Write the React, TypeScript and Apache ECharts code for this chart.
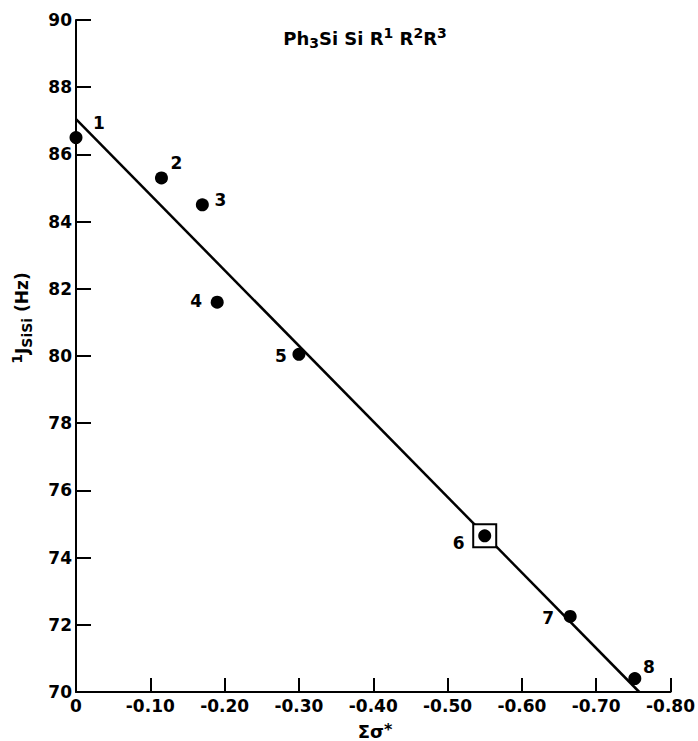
import React, { useEffect, useRef } from "react";
import * as echarts from "echarts";

// Data
const sigmaStar = [0, -0.115, -0.17, -0.19, -0.3, -0.55, -0.665, -0.752];
const couplingJ = [86.5, 85.3, 84.5, 81.6, 80.05, 74.65, 72.25, 70.4];
const compoundLabels = ["1", "2", "3", "4", "5", "6", "7", "8"];
const boxedCompound = "6";
const fitX = [0, -0.758];
const fitY = [87.05, 70];
const xTickValues = [0, -0.1, -0.2, -0.3, -0.4, -0.5, -0.6, -0.7, -0.8];
const yTickValues = [70, 72, 74, 76, 78, 80, 82, 84, 86, 88, 90];

// Layout: label offsets (px) relative to each point
const labelOffsets: [number, number][] = [
  [23, -15],
  [15, -15],
  [18, -5],
  [-21, -1],
  [-18, 2],
  [-26, 7],
  [-22, 2],
  [14, -12],
];

const FONT = "DejaVu Sans";
const W = "bold" as const;

export default function App() {
  const ref = useRef<HTMLDivElement>(null);
  useEffect(() => {
    document.body.style.margin = "0";
    if (!ref.current) return;
    const chart = echarts.init(ref.current, undefined, { renderer: "svg" });
    const pts = sigmaStar.map((x, i) => ({
      value: [x, couplingJ[i]],
      name: compoundLabels[i],
      label: {
        show: true,
        position: "inside",
        offset: labelOffsets[i],
        formatter: compoundLabels[i],
        color: "#000",
        fontSize: 17,
        fontWeight: W,
        fontFamily: FONT,
      },
    }));
    const bi = compoundLabels.indexOf(boxedCompound);
    chart.setOption({
      animation: false,
      backgroundColor: "#fff",
      grid: { left: 76, top: 20, width: 597, height: 672, containLabel: false },
      xAxis: {
        type: "value",
        min: -0.8,
        max: 0,
        interval: 0.1,
        inverse: true,
        axisLine: { show: true, lineStyle: { color: "#000", width: 2 } },
        axisTick: { show: true, inside: true, length: 14, lineStyle: { color: "#000", width: 2 } },
        splitLine: { show: false },
        axisLabel: {
          color: "#000",
          fontSize: 17,
          fontWeight: W,
          fontFamily: FONT,
          margin: 5,
          formatter: (v: number) => {
            const hit = xTickValues.find((t) => Math.abs(t - v) < 1e-6);
            if (hit === undefined) return "";
            return Math.abs(hit) < 1e-9 ? "0" : hit.toFixed(2);
          },
        },
      },
      yAxis: {
        type: "value",
        min: 70,
        max: 90,
        interval: 2,
        axisLine: { show: true, lineStyle: { color: "#000", width: 2 } },
        axisTick: { show: true, inside: true, length: 15, lineStyle: { color: "#000", width: 2 } },
        splitLine: { show: false },
        axisLabel: {
          color: "#000",
          fontSize: 17,
          fontWeight: W,
          fontFamily: FONT,
          margin: 4,
          formatter: (v: number) => {
            const hit = yTickValues.find((t) => Math.abs(t - v) < 1e-6);
            return hit === undefined ? "" : String(hit);
          },
        },
      },
      series: [
        {
          type: "line",
          data: fitX.map((x, i) => [x, fitY[i]]),
          symbol: "none",
          lineStyle: { color: "#000", width: 2.5 },
          z: 2,
          silent: true,
        },
        {
          type: "scatter",
          data: [[sigmaStar[bi], couplingJ[bi]]],
          symbol: "rect",
          symbolSize: 23,
          itemStyle: { color: "#fff", borderColor: "#000", borderWidth: 2, opacity: 1 },
          z: 3,
          clip: false,
          silent: true,
        },
        {
          type: "scatter",
          data: pts,
          symbol: "circle",
          symbolSize: 13,
          itemStyle: { color: "#000", opacity: 1 },
          z: 4,
          clip: false,
          silent: true,
        },
      ],
      graphic: [
        {
          type: "text",
          x: 365,
          y: 38,
          style: {
            text: "{b|Ph}{sub|3}{b|Si Si R}{sup|1}{b| R}{sup|2}{b|R}{sup|3}",
            align: "center",
            verticalAlign: "middle",
            fill: "#000",
            rich: {
              b: { fontSize: 18, fontWeight: W, fontFamily: FONT, lineHeight: 24, fill: "#000" },
              sub: { fontSize: 14, fontWeight: W, fontFamily: FONT, lineHeight: 24, verticalAlign: "bottom", fill: "#000" },
              sup: { fontSize: 14, fontWeight: W, fontFamily: FONT, lineHeight: 24, verticalAlign: "top", fill: "#000" },
            },
          },
        },
        {
          type: "text",
          x: 22,
          y: 318,
          rotation: Math.PI / 2,
          style: {
            text: "{sup|1}{b|J}{sub|SiSi}{b| (Hz)}",
            align: "center",
            verticalAlign: "middle",
            fill: "#000",
            rich: {
              b: { fontSize: 17, fontWeight: W, fontFamily: FONT, lineHeight: 24, fill: "#000" },
              sub: { fontSize: 14, fontWeight: W, fontFamily: FONT, lineHeight: 24, verticalAlign: "bottom", fill: "#000" },
              sup: { fontSize: 14, fontWeight: W, fontFamily: FONT, lineHeight: 24, verticalAlign: "top", fill: "#000" },
            },
          },
        },
        {
          type: "text",
          x: 375,
          y: 731,
          style: {
            text: "{b|Σσ}{sup|*}",
            align: "center",
            verticalAlign: "middle",
            fill: "#000",
            rich: {
              b: { fontSize: 18, fontWeight: W, fontFamily: FONT, lineHeight: 20, fill: "#000" },
              sup: { fontSize: 16, fontWeight: W, fontFamily: FONT, lineHeight: 20, verticalAlign: "top", fill: "#000" },
            },
          },
        },
      ],
    });
    return () => chart.dispose();
  }, []);
  return <div ref={ref} style={{ width: 698, height: 741 }} />;
}
